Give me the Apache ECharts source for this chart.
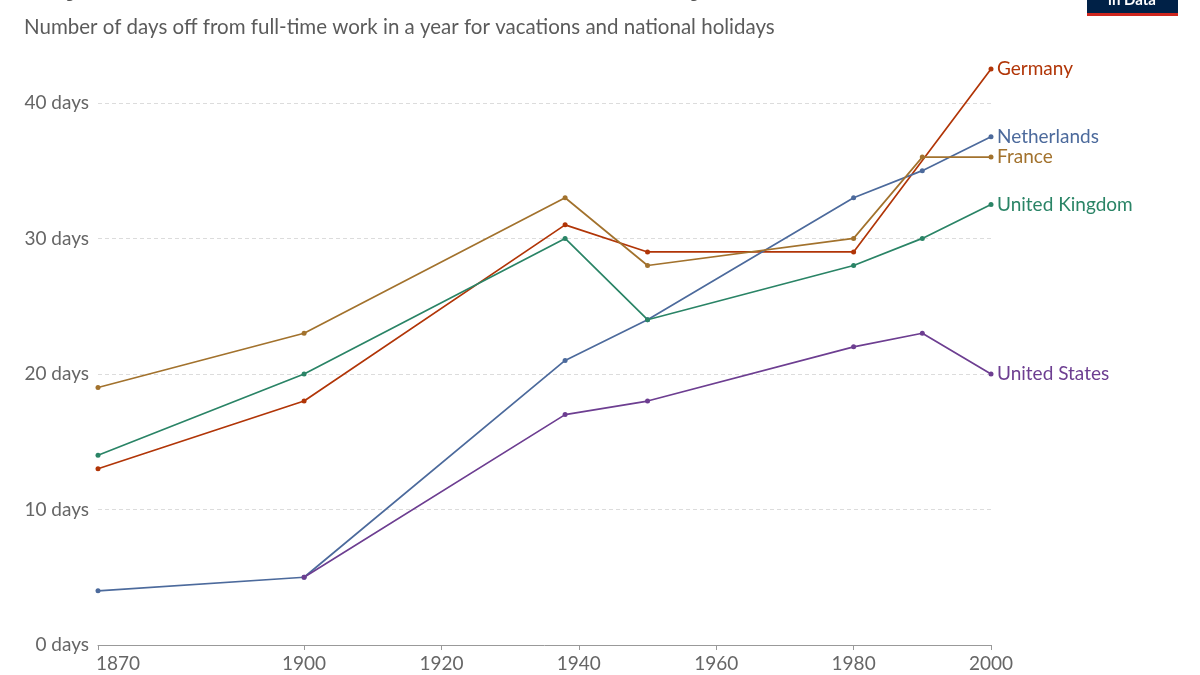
<!DOCTYPE html>
<html>
<head>
<meta charset="utf-8">
<script src="https://cdn.jsdelivr.net/npm/echarts@6/dist/echarts.min.js"></script>
<style>
html,body{margin:0;padding:0;background:#fff;}
#chart{width:1200px;height:675px;}
</style>
</head>
<body>
<div id="chart"></div>
<script>
const titleText = "Days off from work for vacations and holidays";
const subtitleText = "Number of days off from full-time work in a year for vacations and national holidays";
const years = [1870, 1900, 1938, 1950, 1980, 1990, 2000];
const germany = [13, 18, 31, 29, 29, null, 42.5];
const netherlands = [4, 5, 21, 24, 33, 35, 37.5];
const france = [19, 23, 33, 28, 30, 36, 36];
const unitedKingdom = [14, 20, 30, 24, 28, 30, 32.5];
const unitedStates = [null, 5, 17, 18, 22, 23, 20];
const xTickValues = [1870, 1900, 1920, 1940, 1960, 1980, 2000];
const yTickValues = [0, 10, 20, 30, 40];

const seriesDefs = [
  {name: "Germany", values: germany, color: "#B13507"},
  {name: "Netherlands", values: netherlands, color: "#4C6A9C"},
  {name: "France", values: france, color: "#A2722D"},
  {name: "United Kingdom", values: unitedKingdom, color: "#2A8466"},
  {name: "United States", values: unitedStates, color: "#6D3E91"}
];

const chart = echarts.init(document.getElementById('chart'), null, {renderer: 'canvas'});
const font = 'Lato, "Noto Sans", sans-serif';

const option = {
  animation: false,
  backgroundColor: '#fff',
  title: [
    {
      text: titleText, left: 19, top: -33,
      textStyle: {fontFamily: '"DejaVu Serif", "Liberation Serif", serif', fontSize: 30, fontWeight: 'normal', color: '#555'}
    },
    {
      text: subtitleText, left: 19, top: 12,
      textStyle: {fontFamily: font, fontSize: 20.5, fontWeight: 'normal', color: '#5b5b5b'}
    }
  ],
  graphic: [
    {type: 'rect', shape: {x: 1087, y: -20, width: 91, height: 34}, style: {fill: '#002147'}},
    {type: 'rect', shape: {x: 1087, y: 13, width: 91, height: 3}, style: {fill: '#CE261E'}},
    {type: 'text', x: 1132, y: 8, style: {text: 'in Data', fill: '#fff', font: 'bold 15px Lato, sans-serif', textAlign: 'center', textVerticalAlign: 'bottom'}}
  ],
  grid: {left: 98, right: 209, top: 69, bottom: 30, containLabel: false},
  xAxis: {
    type: 'value', min: 1870, max: 2000,
    axisLine: {show: true, lineStyle: {color: '#999', width: 1}},
    axisTick: {show: true, length: 5, lineStyle: {color: '#999'}, customValues: xTickValues},
    axisLabel: {
      customValues: xTickValues,
      fontFamily: font, fontSize: 19, color: '#666', margin: 9,
      formatter: function (v) { return v === 1870 ? '{f|' + v + '}' : String(v); },
      rich: {f: {padding: [0, 0, 0, 40], fontFamily: font, fontSize: 19, color: '#666'}}
    },
    splitLine: {show: false}
  },
  yAxis: {
    type: 'value', min: 0, max: 42.5,
    axisLine: {show: false},
    axisTick: {show: false},
    axisLabel: {
      customValues: yTickValues,
      fontFamily: font, fontSize: 19, color: '#666', margin: 9,
      formatter: function (v) { return v + ' days'; }
    },
    splitLine: {
      show: true, showMinLine: false, showMaxLine: false,
      lineStyle: {color: '#dcdcdc', type: [4, 3], width: 1}
    }
  },
  series: seriesDefs.map(function (s) {
    const data = [];
    years.forEach(function (y, i) { if (s.values[i] !== null) data.push([y, s.values[i]]); });
    return {
      name: s.name, type: 'line', data: data,
      symbol: 'circle', symbolSize: 5, showSymbol: true,
      lineStyle: {color: s.color, width: 1.7},
      itemStyle: {color: s.color},
      endLabel: {
        show: true, formatter: '{a}', color: s.color, distance: 6,
        fontFamily: font, fontSize: 19
      },
      emphasis: {disabled: true}
    };
  })
};
chart.setOption(option);
</script>
</body>
</html>
